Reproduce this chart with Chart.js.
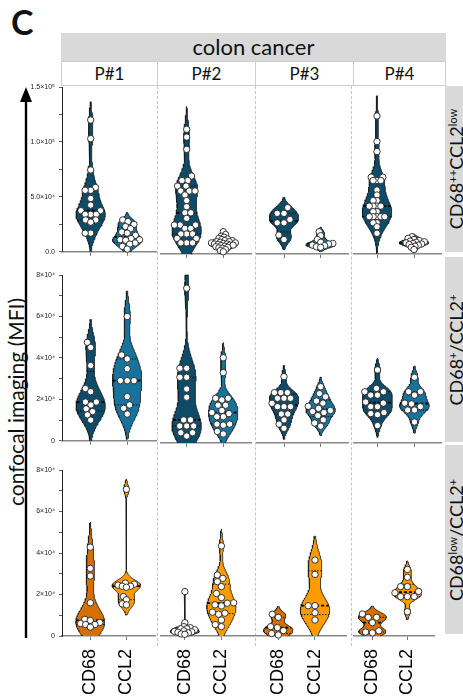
<!DOCTYPE html>
<html><head><meta charset="utf-8"><title>colon cancer violins</title>
<script src="https://cdn.jsdelivr.net/npm/chart.js@4.4.1/dist/chart.umd.min.js"></script>
<style>
html,body{margin:0;padding:0;background:#fff;}
body{position:relative;width:463px;height:697px;overflow:hidden;font-family:Lato,'Open Sans',sans-serif;color:#111;}
.abs{position:absolute;}
.rot{position:absolute;transform:translate(-50%,-50%) rotate(-90deg);white-space:nowrap;line-height:1;}
.rot sup{font-size:0.62em;vertical-align:0.55em;line-height:0;}
canvas{position:absolute;}
.vdiv{position:absolute;width:0;border-left:1px dashed #c4c4c4;}
.pcell{position:absolute;top:61px;height:25px;border:1px solid #cfcfcf;box-sizing:border-box;text-align:center;font-size:17px;line-height:24px;background:#fff;}
.strip{position:absolute;left:445px;width:18px;background:#d9d9d9;}
</style></head><body>
<div class="abs" style="left:11px;top:5px;font-size:34px;font-weight:bold;line-height:1">C</div>
<div class="abs" style="left:61px;top:33px;width:385px;height:28px;background:#d9d9d9;text-align:center;font-size:22px;line-height:28px">colon cancer</div>
<svg class="abs" style="left:16px;top:80px" width="20" height="565">
  <line x1="10" y1="14" x2="10" y2="558" stroke="#000" stroke-width="2.4"/>
  <polygon points="10,7 4,22 16,22" fill="#000"/>
</svg>
<div class="rot" style="left:15px;top:402px;font-size:21px">confocal imaging (MFI)</div>
<script>
// ---------------- data ----------------
const patients = ['P#1', 'P#2', 'P#3', 'P#4'];
const markers = ['CD68', 'CCL2'];
const populations = [['CD68', '++', 'CCL2', 'low'], ['CD68', '+', '/CCL2', '+'], ['CD68', 'low', '/CCL2', '+']];
const row1Ticks = {0: '0.0', 50000: '5.0×10⁴', 100000: '1.0×10⁵', 150000: '1.5×10⁵'};
const row23Ticks = {0: '0', 20000: '2×10⁴', 40000: '4×10⁴', 60000: '6×10⁴', 80000: '8×10⁴'};
const rowMax = [150000, 80000, 80000];
const rowStep = [25000, 10000, 10000];

// CD68++CCL2low
const r1p1CD68 = [120000, 103000, 74500, 58600, 56000, 56000, 48500, 42500, 37400, 37400, 34100, 34100, 34100, 29000, 29000, 27000, 17000, 17000];
const r1p1CCL2 = [29000, 27500, 25000, 23000, 21000, 18000, 17000, 15000, 12000, 11000, 11000, 10500, 8000, 7000, 5000, 2500];
const r1p2CD68 = [112000, 105000, 94000, 70000, 66000, 66000, 61000, 61000, 56600, 56600, 56600, 53000, 48000, 42500, 37000, 37000, 32000, 26000, 26000, 26000, 23000, 23000, 18000, 18000, 18000, 14000, 14000, 10000, 10000, 10000];
const r1p2CCL2 = [20000, 17500, 16000, 15000, 14000, 13500, 13000, 12000, 12000, 11000, 11000, 10500, 10000, 10000, 9500, 9000, 9000, 8500, 8000, 8000, 7500, 7000, 6500, 6000, 5500, 5000, 4000, 3000, 2000];
const r1p3CD68 = [41600, 36500, 36500, 31000, 28000, 28000, 17000, 13000];
const r1p3CCL2 = [20000, 16400, 13000, 10500, 9500, 9000, 8000, 7500, 6500, 6000];
const r1p4CD68 = [124000, 101000, 92000, 69000, 69000, 66000, 66000, 66000, 57500, 53000, 48000, 48000, 43000, 43000, 43000, 43000, 38000, 38000, 33500, 33500, 33500, 33500, 33500, 28000, 28000, 24500, 18600];
const r1p4CCL2 = [15500, 14000, 13000, 12000, 11500, 11000, 10500, 10000, 9500, 9000, 8500, 8000, 7000, 6000, 4000];
// CD68+/CCL2+
const r2p1CD68 = [47500, 45000, 36300, 25200, 23700, 18700, 18700, 17300, 15400, 14100, 12500, 10000];
const r2p1CCL2 = [60000, 41400, 39500, 34800, 29000, 29000, 29000, 21300, 17300, 15700, 12900];
const r2p2CD68 = [73700, 35600, 35600, 31300, 31300, 25700, 21800, 11000, 11000, 8100, 8100, 8100, 4900, 4900, 3300];
const r2p2CCL2 = [40600, 33500, 21300, 21300, 20500, 18000, 18000, 15500, 14500, 14000, 12500, 12500, 9000, 9000, 8500, 5500, 4300];
const r2p3CD68 = [31600, 24000, 24000, 24000, 21300, 21300, 21300, 18900, 17300, 17300, 17300, 13800, 13800, 11000, 9000, 7000];
const r2p3CCL2 = [26800, 23500, 22000, 20000, 19000, 17500, 16500, 15500, 15000, 14500, 13000, 11000, 9500, 8000];
const r2p4CD68 = [34800, 26000, 24400, 24400, 22800, 22800, 19500, 19000, 17300, 17300, 14500, 14000, 13500, 8300];
const r2p4CCL2 = [31300, 24400, 24400, 22800, 19000, 18600, 17300, 15700, 15700, 10000];
// CD68low/CCL2+
const r3p1CD68 = [42800, 32600, 28900, 16000, 8000, 7500, 6500, 6000, 5500, 5500, 4300];
const r3p1CCL2 = [70700, 25500, 25000, 24500, 24000, 24000, 23500, 19000, 17500, 15500, 15000];
const r3p2CD68 = [21400, 6400, 4500, 4000, 3500, 3500, 3000, 2500, 2200, 2000, 1800, 1500, 1000, 800];
const r3p2CCL2 = [43400, 29400, 27800, 26200, 23800, 20500, 18500, 16000, 15800, 15000, 14500, 11500, 11000, 10500, 7700, 5500, 4500];
const r3p3CD68 = [10500, 9000, 4500, 4000, 2600, 1200, 500];
const r3p3CCL2 = [36600, 29700, 14600, 14600, 11200, 7700];
const r3p4CD68 = [10600, 9000, 9000, 6400, 2500, 1900, 1500];
const r3p4CCL2 = [32100, 28300, 23800, 23800, 21500, 20800, 19000, 19000, 19000, 11700];

const seriesValues = [
  [[r1p1CD68, r1p1CCL2], [r1p2CD68, r1p2CCL2], [r1p3CD68, r1p3CCL2], [r1p4CD68, r1p4CCL2]],
  [[r2p1CD68, r2p1CCL2], [r2p2CD68, r2p2CCL2], [r2p3CD68, r2p3CCL2], [r2p4CD68, r2p4CCL2]],
  [[r3p1CD68, r3p1CCL2], [r3p2CD68, r3p2CCL2], [r3p3CD68, r3p3CCL2], [r3p4CD68, r3p4CCL2]]
];

// ---------------- layout & style ----------------
const rowBox = [{top: 87, bottom: 254, axisH: 6}, {top: 275, bottom: 443, axisH: 6}, {top: 470, bottom: 636, axisH: 61}];
const panelGeom = [
  [[62, 157, 90.7, 127.2], [160, 252, 186.7, 223.3], [256, 349, 284, 320.7], [353, 442, 377, 414]],
  [[62, 157, 90.7, 127.2], [160, 252, 186.7, 223.3], [256, 349, 284, 320.7], [353, 442, 377.5, 414.5]],
  [[62, 157, 90.7, 127.3], [160, 252, 185, 221.7], [252, 347, 278.3, 315], [353, 438, 373.3, 410]]
];
const stripBox = [[86, 252], [257, 442], [445, 634]];
const fills = [['#0d4b68', '#17729c'], ['#0d4b68', '#17729c'], ['#d46f00', '#ff9b00']];
const HALF = 0.4;      // violin max half-width in category units
const BW = 0.8;        // bandwidth multiplier (Silverman)
const TAIL = 2.0;      // tail extension in bandwidths
const PR = 3.2;        // point radius px

// ---------------- header / strips ----------------
const pEdges = [61, 157, 255, 353, 445];
patients.forEach((p, i) => {
  const d = document.createElement('div');
  d.className = 'pcell';
  d.style.left = pEdges[i] + 'px';
  d.style.width = (pEdges[i + 1] - pEdges[i] + 1) + 'px';
  d.textContent = p;
  document.body.appendChild(d);
});
[157, 255, 351].forEach(x => {
  const d = document.createElement('div');
  d.className = 'vdiv';
  d.style.left = x + 'px'; d.style.top = '86px'; d.style.height = '560px';
  document.body.appendChild(d);
});
populations.forEach((parts, i) => {
  const s = document.createElement('div');
  s.className = 'strip';
  s.style.top = stripBox[i][0] + 'px';
  s.style.height = (stripBox[i][1] - stripBox[i][0]) + 'px';
  document.body.appendChild(s);
  const t = document.createElement('div');
  t.className = 'rot';
  t.style.fontSize = '18px';
  t.style.left = '456px';
  t.style.top = ((stripBox[i][0] + stripBox[i][1]) / 2) + 'px';
  t.innerHTML = parts[0] + '<sup>' + parts[1] + '</sup>' + parts[2] + '<sup>' + parts[3] + '</sup>';
  document.body.appendChild(t);
});

// ---------------- statistics ----------------
function quantile(sorted, p) {
  const n = sorted.length;
  let pos = (n + 1) * p - 1;
  if (pos < 0) pos = 0;
  if (pos > n - 1) pos = n - 1;
  const lo = Math.floor(pos), hi = Math.ceil(pos);
  return sorted[lo] + (sorted[hi] - sorted[lo]) * (pos - lo);
}
function violinModel(values, axisMax) {
  const s = values.slice().sort((a, b) => a - b);
  const n = s.length;
  const mean = s.reduce((a, b) => a + b, 0) / n;
  const sd = Math.sqrt(s.reduce((a, b) => a + (b - mean) * (b - mean), 0) / (n - 1));
  const q1 = quantile(s, 0.25), q2 = quantile(s, 0.5), q3 = quantile(s, 0.75);
  let spread = Math.min(sd, (q3 - q1) / 1.34);
  if (!(spread > 0)) spread = sd;
  const h = 0.9 * spread * Math.pow(n, -0.2) * BW;
  const lo = Math.max(0, s[0] - TAIL * h), hi = Math.min(axisMax, s[n - 1] + TAIL * h);
  const dens = y => s.reduce((a, v) => a + Math.exp(-0.5 * ((y - v) / h) ** 2), 0);
  const N = 100, ys = [], ds = [];
  for (let i = 0; i <= N; i++) { const y = lo + (hi - lo) * i / N; ys.push(y); ds.push(dens(y)); }
  const dmax = Math.max(...ds);
  return {ys, ds, dmax, q1, q2, q3, width: y => (y < lo || y > hi) ? 0 : HALF * dens(y) / dmax};
}

// ---------------- charts ----------------
const charts = [];
function buildPanel(r, c) {
  const [L, R, c1, c2] = panelGeom[r][c];
  const box = rowBox[r];
  const unit = c2 - c1;
  const left = c === 0 ? 20 : L;
  const padTop = 16;
  const w = Math.round(R - left), h = padTop + (box.bottom - box.top) + box.axisH;
  const cv = document.createElement('canvas');
  cv.width = w; cv.height = h;
  cv.style.left = left + 'px'; cv.style.top = (box.top - padTop) + 'px';
  cv.style.width = w + 'px'; cv.style.height = h + 'px';
  document.body.appendChild(cv);
  const xmin = -(c1 - L) / unit, xmax = 1 + (R - c2) / unit;
  const datasets = [];
  markers.forEach((m, k) => {
    const vals = seriesValues[r][c][k];
    const vm = violinModel(vals, rowMax[r]);
    const outline = [];
    for (let i = 0; i < vm.ys.length; i++) outline.push({x: k + HALF * vm.ds[i] / vm.dmax, y: vm.ys[i]});
    for (let i = vm.ys.length - 1; i >= 0; i--) outline.push({x: k - HALF * vm.ds[i] / vm.dmax, y: vm.ys[i]});
    datasets.push({type: 'scatter', label: m + ' points', data: vals.map(y => ({x: k, y})), order: 0, clip: false,
      pointRadius: PR, pointBackgroundColor: '#ffffff', pointBorderColor: '#222', pointBorderWidth: 0.9, _swarm: {k, vals, vm}});
    [[vm.q2, 1.8, [3, 2]], [vm.q1, 0.9, [1.5, 1.5]], [vm.q3, 0.9, [1.5, 1.5]]].forEach(([q, lw, dash]) => {
      const wq = vm.width(q);
      datasets.push({type: 'line', data: [{x: k - wq, y: q}, {x: k + wq, y: q}], order: 1, clip: false,
        borderColor: '#000', borderWidth: lw, borderDash: dash, pointRadius: 0, fill: false});
    });
    datasets.push({type: 'line', label: m + ' violin', data: outline, order: 2, clip: false, fill: 'shape',
      backgroundColor: fills[r][k], borderColor: '#1a1a1a', borderWidth: 0.8, pointRadius: 0, tension: 0});
  });
  const yTickMap = r === 0 ? row1Ticks : row23Ticks;
  const chart = new Chart(cv, {
    type: 'scatter',
    data: {datasets},
    options: {
      responsive: false, animation: false, events: [],
      devicePixelRatio: 1,
      layout: {padding: {top: padTop, left: 0, right: 0, bottom: 0}, autoPadding: false},
      plugins: {legend: {display: false}, tooltip: {enabled: false}},
      scales: {
        x: {
          type: 'linear', min: xmin, max: xmax,
          afterBuildTicks: s => { s.ticks = [{value: 0}, {value: 1}]; },
          afterFit: s => { s.height = box.axisH; },
          ticks: {
            autoSkip: false, minRotation: r === 2 ? 90 : 0, maxRotation: r === 2 ? 90 : 0, padding: 9,
            color: '#000', font: {family: "'Liberation Sans',Arial,sans-serif", size: 18},
            callback: v => (r === 2 ? markers[v] : '')
          },
          grid: {display: true, drawOnChartArea: false, drawTicks: true, tickLength: 4, color: '#777', lineWidth: 1},
          border: {display: true, color: '#888', width: 1.5}
        },
        y: {
          type: 'linear', min: 0, max: rowMax[r], display: c === 0,
          afterFit: s => { s.width = L - left; },
          ticks: {stepSize: rowStep[r], autoSkip: false, padding: 4, color: '#222',
            font: {family: "'Liberation Sans',Arial,sans-serif", size: 7},
            callback: v => (yTickMap[v] !== undefined ? yTickMap[v] : '')},
          grid: {display: true, drawOnChartArea: false, drawTicks: true, tickLength: 3, color: '#333', lineWidth: 0.8},
          border: {display: true, color: '#222', width: 1}
        }
      }
    }
  });
  charts.push(chart);
}
for (let r = 0; r < 3; r++) for (let c = 0; c < 4; c++) buildPanel(r, c);

// beeswarm offsets computed in pixel space from the chart's own scales;
// spacing is tightened until the swarm fits inside its violin
function beeswarm(pys, D) {
  const idx = pys.map((v, i) => i).sort((a, b) => pys[b] - pys[a]);
  const placed = [], off = new Array(pys.length);
  for (const i of idx) {
    const py = pys[i];
    const near = placed.filter(p => Math.abs(p.y - py) < D);
    const cands = [0];
    near.forEach(p => { const dx = Math.sqrt(D * D - (p.y - py) ** 2); cands.push(p.x + dx, p.x - dx); });
    cands.sort((a, b) => Math.abs(a) - Math.abs(b) || a - b);
    let chosen = 0;
    for (const cx of cands) {
      if (near.every(p => (p.x - cx) ** 2 + (p.y - py) ** 2 >= D * D - 0.05)) { chosen = cx; break; }
    }
    placed.push({x: chosen, y: py});
    off[i] = chosen;
  }
  return off;
}
function swarm(chart, vals, vm) {
  const xs = chart.scales.x, ys = chart.scales.y;
  const pxUnit = xs.getPixelForValue(1) - xs.getPixelForValue(0);
  const pys = vals.map(v => ys.getPixelForValue(v));
  const lim = vals.map(v => Math.max(PR * 0.6, vm.width(v) * pxUnit - PR * 0.2));
  let D = 2 * PR + 0.4, off = beeswarm(pys, D);
  for (let it = 0; it < 60 && D > 1.6; it++) {
    if (off.every((o, i) => Math.abs(o) <= lim[i])) break;
    D *= 0.95;
    off = beeswarm(pys, D);
  }
  return off.map(o => o / pxUnit);
}
charts.forEach(ch => {
  ch.data.datasets.forEach(ds => {
    if (!ds._swarm) return;
    const {k, vals, vm} = ds._swarm;
    const off = swarm(ch, vals, vm);
    ds.data = vals.map((y, i) => ({x: k + off[i], y}));
  });
  ch.update('none');
});
</script>
</body></html>
